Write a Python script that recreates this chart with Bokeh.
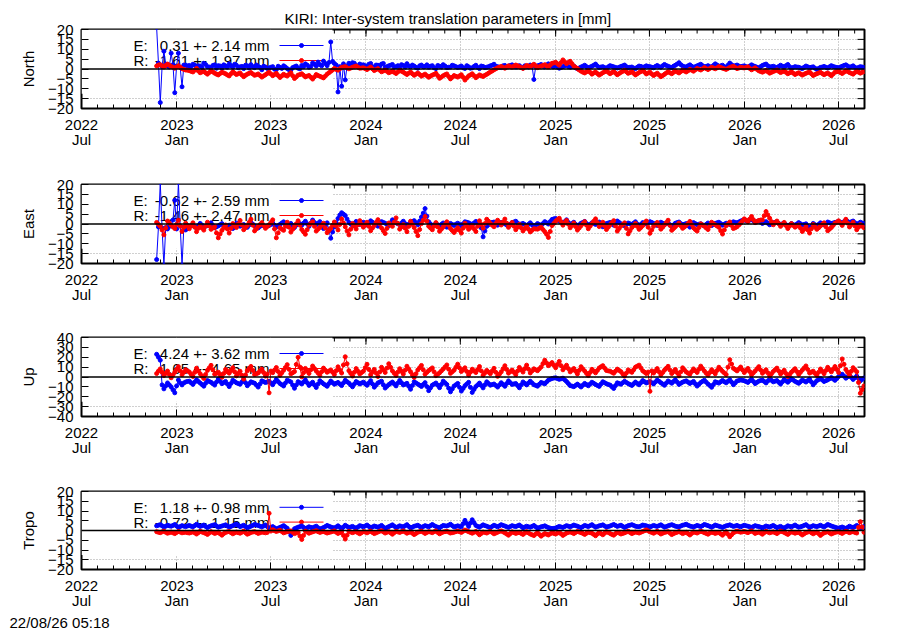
from datetime import datetime, timedelta
from bokeh.plotting import figure
from bokeh.layouts import column
from bokeh.models import FixedTicker, Range1d, Title
from bokeh.core.properties import value
from bokeh.embed import file_html
from bokeh.resources import INLINE

# ---------------- data ----------------
TITLE = "KIRI: Inter-system translation parameters in [mm]"
STAMP = "22/08/26 05:18"
FIRST_DAY = datetime(2022, 11, 23)   # first weekly sample; *_MID lists sit half a week later
STEP_DAYS = 7
X_START = datetime(2022, 7, 1)
X_END = datetime(2026, 8, 20)

PANELS = ["North", "East", "Up", "Tropo"]
Y_LIMITS = [20, 20, 40, 20]
Y_STEPS = [5, 5, 10, 5]
KEY_E = ["0.31 +- 2.14 mm", "-0.62 +- 2.59 mm", "-4.24 +- 3.62 mm", "1.18 +- 0.98 mm"]
KEY_R = ["-1.61 +- 1.97 mm", "-1.46 +- 2.47 mm", "1.65 +- 4.65 mm", "-0.72 +- 1.15 mm"]

NORTH_E = [21, -17, 9, 1.5, 8, -12, 8, -9, 2,
           1.8, 2.4, 0.9, 1.5, 2.9, 1.2, 0.6, 2.1, 1.7, 0.3, 1.4, 2.6, 0.8, 1.9, 1.1, 0.2, 1.6, 2.2, 0.7, 1.3, -0.4, 1.0,
           0.5, 1.2, -0.3, 0.8, 1.6, 0.2, -0.6, 1.1, 0.4, 1.8, 2.6, 0.9, 3.1, 1.5, 2.2, 4.0, 1.7,
           13.7, 2.8, -11.6, -8.7, -5.5, 2.9, 3.2, 1.8, 2.5,
           2.1, 1.4, 2.8, 1.0, 1.9, 2.5, 0.8, 1.6, 2.3, 1.2, 0.6, 1.8, 2.7, 1.1, 1.5, 0.4, 2.0, 1.3, 0.9, 1.7, 0.2, 1.4, 2.2, 0.7, 1.0, 1.6,
           0.8, 1.5, 0.3, 1.1, 0.6, 1.9, 0.2, 1.3, 0.9, 1.6, 2.4, 1.2, 0.7, 1.8, 1.4, 2.1, 1.0, 1.7, 0.5, 1.3, 2.0, -5.3, 1.6, 2.3, 1.1, 2.6, 1.4,
           1.8, 0.4, 1.2, 2.2, 0.9, 1.5, 0.1, 1.0, 1.9, 0.6, 1.4, 2.5, 0.8, 1.2, 0.3, 1.7, 1.1, 0.5, 1.3, 2.0, 0.7, 1.0, 0.2, 1.5, 0.9, 1.6,
           1.2, 0.6, 1.8, 0.9, 2.3, 1.4, 0.7, 1.9, 3.2, 1.5, 1.0, 2.1, 0.8, 1.6, 2.4, 1.1, 1.7, 0.9, 2.6, 1.3, 1.9, 0.7, 3.0, 1.5, 2.0, 1.2,
           1.6, 0.8, 2.1, 1.3, 0.5, 1.8, 2.5, 1.0, 1.4, 0.6, 1.9, 1.1, 2.3, 0.4, 1.2, 0.9, 0.2, 1.5, 0.7, 1.1, -0.2, 0.8, 1.3, 0.5, 1.7, 1.0,
           0.6, 1.4, 2.1, 0.9, 1.6, 0.3, 1.2, 0.8]
NORTH_E_MID = [3.0, 1.2, 2.5, 1.0, 2.2, 1.5, 0.8, 2.0, 1.4,
               1.1, 2.0, 1.6, 0.7, 2.3, 1.0, 1.8, 0.4, 1.5, 2.1, 0.9, 1.7, 2.4, 0.6, 1.3, 1.9, 0.5, 1.2, 2.0, 0.8, 1.4, 0.3,
               0.9, -0.1, 1.4, 0.3, 1.0, -0.4, 0.7, 1.5, 0.1, 1.2, 2.0, 1.3, 2.4, 3.5, 1.6, 2.8, 3.3,
               3.8, 2.0, 1.2, 2.6, 1.5, 2.2, 2.9, 1.4, 2.0,
               1.6, 2.4, 1.1, 2.0, 1.4, 2.8, 1.2, 1.9, 0.9, 1.7, 2.2, 1.0, 1.5, 2.0, 0.8, 1.6, 1.1, 2.1, 1.4, 0.6, 1.8, 1.0, 1.5, 0.9, 1.9, 1.2,
               1.1, 0.6, 1.7, 0.4, 1.3, 0.8, 1.5, 0.7, 1.2, 1.9, 1.4, 0.9, 1.6, 1.1, 1.8, 1.3, 1.2, 0.9, 1.6, 1.0, 1.5, 1.2, 1.9, 1.4, 2.0, 1.8, 1.2,
               1.0, 0.8, 1.6, 1.3, 1.2, 0.6, 0.5, 1.4, 1.2, 1.0, 1.9, 1.5, 1.0, 0.7, 1.1, 1.4, 0.8, 0.9, 1.6, 1.2, 0.9, 0.5, 0.9, 1.3, 1.1, 1.3,
               0.9, 1.3, 1.2, 1.6, 1.8, 1.0, 1.4, 2.5, 2.2, 1.2, 1.6, 1.4, 1.2, 2.0, 1.7, 1.3, 1.2, 1.8, 2.0, 1.6, 1.2, 1.9, 2.2, 1.7, 1.5, 1.4,
               1.2, 1.5, 1.6, 0.9, 1.2, 2.2, 1.6, 1.2, 1.0, 1.3, 1.4, 1.7, 1.2, 0.8, 1.0, 0.5, 0.9, 1.1, 0.9, 0.4, 0.3, 1.0, 0.9, 1.1, 1.3, 0.8,
               1.0, 1.8, 1.5, 1.2, 0.9, 0.8, 1.0]
NORTH_R = [1.5, 2.2, 1.0, 2.5, 1.3, 0.4, 1.6, 0.2, -0.5,
           -0.8, -1.5, 0.3, -1.9, -1.2, -2.6, -0.9, -2.1, -3.0, -1.7, -2.4, -3.5, -1.4, -2.8, -2.0, -3.9, -2.6, -1.8, -3.2, -2.5, -4.1, -2.9,
           -1.6, -3.4, -2.2, -4.3, -2.7, -3.6, -1.9, -4.8, -3.1, -2.4, -4.0, -3.3, -5.1, -2.8, -3.7, -4.5, -2.6,
           -1.2, 0.3, -0.6, 0.8, 1.2, 0.1, 0.9, 1.5, 0.4,
           0.6, -0.3, 1.0, -0.8, 0.2, -1.4, -0.6, -1.9, -1.1, -2.3, -0.7, -1.6, -2.8, -1.5, -3.2, -2.0, -3.6, -2.6, -4.2, -3.1, -2.2, -4.7, -3.4, -2.5, -5.0, -3.3,
           -4.1, -2.9, -5.6, -3.5, -2.4, -4.4, -3.0, -3.8, -2.7, -1.5, -0.4, 0.6, 1.3, 0.4, 1.6, 0.9, 2.0, 1.1, 0.3, 1.8, 1.2, 2.4, 0.7, 1.5, 2.2, 1.0, 2.9,
           3.4, 1.9, 4.6, 2.7, 3.9, 1.5, 0.2, -1.1, -2.0, -0.8, -2.6, -1.5, -3.1, -1.9, -0.9, -2.4, -1.3, -2.9, -1.7, -0.6, -2.2, -1.4, -3.0, -1.8, -0.7, -2.5,
           -1.6, -3.3, -2.1, -3.9, -2.7, -1.4, -2.4, -1.0, -2.0, -0.6, -1.5, -0.2, -1.1, 0.3, -0.5, 0.7, -0.3, 0.9, 0.1, 1.2, 0.4, -0.2, 0.8, 1.4, 0.2, 0.9,
           0.5, 1.1, -0.4, 0.6, -0.9, -1.6, -0.7, -2.1, -1.3, -0.5, -1.8, -1.0, -2.4, -1.4, -2.8, -1.9, -3.1, -2.2, -1.5, -3.3, -2.4, -1.7, -2.9, -2.0, -3.4, -1.6,
           -1.2, -2.3, -0.9, -1.8, -2.6, -1.1, -2.1, -1.4]
NORTH_R_MID = [2.0, 1.6, 1.8, 1.9, 0.9, 1.0, 0.9, -0.2, -0.6,
               -1.2, -0.6, -1.0, -1.5, -1.9, -1.8, -1.5, -2.6, -2.3, -2.0, -3.0, -2.4, -2.1, -2.4, -3.0, -3.2, -2.2, -2.5, -2.9, -3.3, -3.5, -2.3,
               -2.5, -2.8, -3.3, -3.5, -3.2, -2.7, -3.4, -4.0, -2.8, -3.2, -3.6, -4.2, -4.0, -3.3, -4.1, -3.6, -1.9,
               -0.5, -0.2, 0.1, 1.0, 0.6, 0.5, 1.2, 0.9, 0.5,
               0.2, 0.4, 0.1, -0.3, -0.6, -1.0, -1.2, -1.5, -1.7, -1.5, -1.1, -2.2, -2.1, -2.4, -2.6, -2.8, -3.1, -3.4, -3.6, -2.7, -3.4, -4.1, -2.9, -3.8, -4.2, -3.7,
               -3.5, -4.2, -4.5, -3.0, -3.4, -3.7, -3.4, -3.2, -2.1, -1.0, 0.1, 0.9, 0.8, 1.0, 1.2, 1.5, 1.6, 0.7, 1.0, 1.5, 1.8, 1.6, 1.1, 1.8, 1.6, 2.0, 3.1,
               2.6, 3.3, 3.6, 3.3, 2.7, 0.8, -0.5, -1.6, -1.4, -1.7, -2.0, -2.3, -2.5, -1.4, -1.7, -1.8, -2.1, -2.3, -1.2, -1.4, -1.8, -2.2, -2.4, -1.3, -1.6, -2.0,
               -2.5, -2.7, -3.0, -3.3, -2.0, -1.9, -1.7, -1.5, -1.3, -1.0, -0.9, -0.6, -0.4, -0.1, 0.1, 0.2, 0.3, 0.5, 0.6, 0.8, 0.1, 0.3, 1.1, 0.8, 0.5, 0.7,
               0.8, 0.3, 0.1, -0.2, -1.3, -1.2, -1.4, -1.7, -0.9, -1.2, -1.4, -1.7, -1.9, -2.1, -2.3, -2.5, -2.6, -1.8, -2.4, -2.8, -2.0, -2.3, -2.4, -2.7, -2.5, -1.4,
               -1.8, -1.6, -1.3, -2.2, -1.8, -1.6, -1.7]

EAST_E = [-18, 21, -21, -2.5, -1.0, 12, 21, -21, -3,
          -1.2, -0.4, -2.1, 0.3, -1.5, -0.8, 0.6, -1.9, -1.0, 0.2, -1.4, -0.6, -2.3, 0.4, -1.1, -0.3, -1.7, 0.8, -0.9, -2.0, -0.5, -1.3,
          -0.8, 0.5, -1.6, -0.2, 1.1, -1.0, 0.3, -1.8, 0.7, -0.6, 1.4, -1.2, 2.0, -0.4, 1.2, -2.3, 0.6,
          -7.2, -1.5, 2.8, 5.7, 4.3, 0.8, -0.7, 1.3, -0.2,
          0.9, -0.5, 1.6, 0.2, -1.1, 1.2, 0.4, -0.8, 2.1, 0.6, -0.3, 1.4, -1.0, 0.8, 1.7, -0.4, 3.5, 7.8, 1.1, -1.3, 0.2, -0.9, 0.5, -1.6, 0.3, -0.7,
          0.4, -0.8, 1.1, 0.6, -0.3, 1.3, 0.2, -6.5, -1.2, 0.5, 1.0, -0.6, 0.8, 0.1, -1.0, 0.7, 1.4, -0.4, 0.3, -0.9, 0.6, -1.5, 0.2, -0.7, 1.2, 0.0, 2.3,
          2.8, 1.5, 0.3, 2.1, -0.5, 0.9, -1.2, 0.4, 1.3, -0.8, 0.6, -0.2, 1.0, -1.4, 0.2, 0.8, -0.6, 1.5, 0.1, -0.9, 0.5, -0.3, 1.1, -1.1, 0.7, 0.0,
          1.2, 0.3, -0.7, 0.9, -0.2, 0.6, -1.3, 0.4, 1.0, -0.5, 0.2, -1.6, 0.7, -0.4, 0.1, -1.0, 0.5, -0.8, 0.3, 0.9, -0.6, 0.4, -0.2, 1.1, 0.6, 1.5,
          2.1, 1.4, 2.6, 0.8, 1.7, 0.3, 1.2, -0.4, 0.6, 0.9, -0.3, 0.5, -1.2, 0.2, -0.8, 0.7, -0.5, 0.1, -2.6, 0.3, -1.0, 0.6, -0.4, 1.0, 0.2, 0.8,
          1.3, 0.4, 2.0, 0.7, 1.5, -0.3, 0.9, 0.2]
EAST_E_MID = [-1.5, -2.0, -1.8, -1.2, 2.0, -2.5, -1.0, -1.5, -0.8,
              -0.8, -1.3, -0.9, -0.6, -1.1, -0.2, -0.7, -1.4, -0.4, -0.7, -1.0, -1.5, -0.8, -0.4, -0.7, -1.0, -0.5, -0.1, -1.5, -1.2, -0.9, -1.0,
              -0.2, -0.6, -0.9, 0.5, 0.0, -0.4, -0.8, -0.6, 0.1, 0.4, 0.1, 0.4, 0.8, 0.4, -0.5, -1.0, -3.0,
              -4.0, 0.6, 4.5, 5.0, 2.5, 0.0, 0.3, 0.5, 0.4,
              0.2, 0.5, 0.9, -0.5, 0.0, 0.8, -0.2, 0.6, 1.3, 0.1, 0.5, 0.2, -0.1, 1.2, 0.6, 1.5, 5.5, 4.0, 0.0, -0.5, -0.4, -0.2, -0.6, -0.7, -0.2, -0.1,
              -0.2, 0.1, 0.9, 0.1, 0.5, 0.7, -2.0, -3.5, -0.3, 0.8, 0.2, 0.1, 0.4, -0.5, -0.1, 1.0, 0.5, 0.0, -0.3, -0.2, -0.4, -0.6, -0.3, 0.2, 0.6, 1.2, 2.6,
              2.1, 0.9, 1.2, 0.8, 0.2, -0.2, -0.4, 0.8, 0.2, -0.1, 0.2, 0.4, -0.2, -0.6, 0.5, 0.1, 0.4, 0.8, -0.4, -0.2, 0.1, 0.4, 0.0, -0.2, 0.3, 0.6,
              0.8, -0.2, 0.1, 0.4, 0.2, -0.4, -0.5, 0.7, 0.2, -0.1, -0.7, -0.4, 0.2, -0.1, -0.5, -0.2, -0.2, -0.3, 0.6, 0.2, -0.1, 0.1, 0.4, 0.8, 1.0, 1.8,
              1.7, 2.0, 1.7, 1.2, 1.0, 0.8, 0.4, 0.1, 0.8, 0.3, 0.1, -0.4, -0.5, -0.3, 0.0, 0.1, -0.2, -1.2, -1.2, -0.4, -0.2, 0.1, 0.3, 0.6, 0.5, 1.0,
              0.9, 1.2, 1.3, 1.1, 0.6, 0.3, 0.5]
EAST_R = [0.8, -1.2, -5.5, 1.5, -0.6, -2.3, 1.9, -3.8, 0.4,
          -2.4, 0.6, -3.9, -1.0, -3.1, 0.9, -2.7, -1.4, -7.0, -3.2, -0.5, -4.6, 0.2, -1.8, 1.8, -2.9, -0.8, 2.4, -3.5, -1.2, 0.7, -2.2,
          -0.4, 2.1, -7.0, -1.9, -3.2, 0.9, -4.1, -1.3, 1.6, -2.8, -5.2, -0.6, 1.2, -3.6, -1.7, 0.4, -4.4,
          -2.2, 1.0, -3.0, 2.6, -1.4, -5.5, 0.3, -2.5, 1.7,
          -1.6, 0.9, -3.4, -0.7, 2.2, -2.0, -4.8, 0.5, -1.2, 3.1, -2.6, -0.3, -3.9, 1.4, -1.8, -5.9, 0.2, 3.8, -1.1, -2.9, 0.7, -3.7, -1.5, 1.1, -2.3, -4.3,
          -1.9, -4.6, 0.4, -2.7, -0.9, -3.8, 1.6, -2.1, 2.4, 0.3, -1.4, 1.9, -0.5, 2.5, -1.7, 0.8, -2.9, -0.2, -3.5, -1.1, -4.0, -2.4, -2.6, -1.6, -3.9, -6.8, -0.8,
          1.4, 2.9, -0.6, 1.8, -1.9, 0.5, -3.1, -0.9, 1.2, -2.4, 0.2, 2.6, -1.3, 0.9, -2.8, -0.4, 1.7, -3.6, -1.0, 0.6, -5.0, -1.8, 0.3, -2.7, -0.8, 1.5,
          -4.7, -1.2, 0.8, -2.6, -0.5, 1.9, -3.2, -1.4, 0.5, -2.2, -0.7, 1.3, -1.9, -3.6, 0.1, -1.1, -2.8, 0.9, -0.4, -1.7, -5.1, -0.9, 1.0, -2.3, -1.4, 0.4,
          2.6, 1.2, 3.8, 0.7, 1.8, 2.1, 6.3, 2.9, -0.4, 1.5, -1.2, 0.8, -2.3, 0.2, -1.6, -0.5, -3.8, -1.3, -4.6, -0.2, -2.7, -1.0, 0.6, -3.4, -1.8, 0.4,
          1.6, -0.7, 2.4, -1.5, 0.9, -2.9, -0.3, -1.9]
EAST_R_MID = [-0.2, -3.0, -2.0, 0.5, -1.4, -0.2, -1.0, -1.7, -1.0,
              -0.9, -1.6, -2.2, -2.0, -1.1, -0.9, -2.0, -4.5, -5.0, -1.8, -2.5, -2.2, -0.8, 0.0, -0.5, -1.8, 0.8, -0.6, -2.4, -0.3, -0.8, -1.3,
              0.8, -2.5, -4.5, -2.6, -1.2, -1.6, -2.7, 0.1, -0.6, -4.0, -2.9, 0.3, -1.2, -2.6, -0.6, -2.0, -3.3,
              -0.6, -1.0, -0.2, 0.6, -3.5, -2.6, -1.1, -0.4, -0.2,
              -0.4, -1.2, -2.0, 0.8, 0.1, -3.4, -2.2, -0.4, 0.9, 0.3, -1.4, -2.1, -1.2, -0.2, -3.8, -2.8, 1.9, 1.4, -2.0, -1.1, -1.5, -2.6, -0.2, -0.6, -3.3, -3.1,
              -3.2, -2.1, -1.1, -1.8, -2.4, -1.1, -0.2, 0.2, 1.4, -0.6, 0.3, 0.7, 1.0, 0.4, -0.5, -1.1, -1.6, -1.9, -2.3, -2.6, -3.2, -2.5, -2.1, -2.8, -5.2, -3.8, 0.3,
              2.2, 1.2, 0.6, -0.1, -0.7, -1.3, -2.0, 0.2, -0.6, -1.1, 1.4, 0.7, -0.2, -1.0, -1.6, 0.7, -1.0, -2.3, -0.2, -2.2, -3.4, -0.8, -1.2, -1.8, 0.4, -1.6,
              -3.0, -0.2, -0.9, -1.6, 0.7, -0.7, -2.3, -0.5, -0.9, -1.5, 0.3, -0.3, -2.8, -1.8, -0.5, -2.0, -1.0, 0.2, -1.0, -3.4, -3.0, 0.0, -0.7, -1.9, -0.5, 1.5,
              1.9, 2.5, 2.2, 1.3, 2.0, 4.2, 4.6, 1.2, 0.6, 0.2, -0.2, -0.8, -1.0, -0.7, -1.0, -2.1, -2.6, -3.0, -2.4, -1.5, -1.9, -0.2, -1.4, -2.6, -0.7, 0.9,
              0.5, 0.9, 0.4, -0.3, -1.0, -1.6, -1.1]

UP_E = [23, 17, -12, -6, -10, -16, -3, -8, -5,
        -4.2, -7.5, -2.8, -6.1, -9.3, -3.6, -5.4, -8.2, -2.1, -6.8, -4.5, -9.7, -3.3, -5.9, -7.4, -2.6, -8.8, -4.9, -6.3, -10.2, -3.9, -5.6,
        -4.4, -7.8, -2.5, -6.6, -9.1, -3.2, -5.0, -11.4, -4.7, -7.1, -2.9, -8.5, -5.3, -10.6, -3.8, -6.9, -9.4,
        -4.1, -7.3, -5.5, -8.7, -3.4, -6.2, -9.9, -4.6, -7.0,
        -5.2, -8.4, -3.7, -10.3, -6.0, -4.3, -11.2, -7.7, -5.1, -9.0, -3.5, -8.1, -6.4, -12.4, -4.8, -7.2, -9.6, -5.7, -13.8, -8.3, -6.1, -10.8, -4.2, -7.6, -15.0, -9.2,
        -6.5, -14.3, -8.8, -5.4, -15.6, -9.7, -6.2, -11.0, -4.9, -8.3, -7.1, -10.2, -5.8, -9.4, -3.9, -7.5, -6.6, -10.9, -5.0, -8.0, -4.3, -7.8, -9.3, -5.5, -6.9, -3.2, -1.5,
        -0.8, -2.4, -1.2, -4.6, -8.7, -9.8, -7.2, -10.1, -6.5, -8.9, -5.3, -7.6, -9.5, -4.8, -6.8, -8.2, -11.6, -5.9, -7.3, -4.4, -6.7, -8.6, -5.1, -7.9, -3.6, -6.0,
        -4.7, -7.0, -3.1, -5.8, -8.4, -4.0, -6.3, -2.8, -7.5, -5.2, -3.9, -6.6, -4.5, -9.2, -5.6, -3.3, -7.1, -10.4, -4.8, -6.2, -3.5, -5.9, -2.7, -7.8, -4.1, -3.0,
        -3.8, -5.5, -2.4, -6.7, -4.2, -3.1, -6.0, -2.0, -4.9, -3.6, -7.2, -2.6, -5.3, -1.8, -4.4, -6.4, -3.0, -5.1, -2.2, -7.9, -3.7, -1.5, -4.6, -2.9, -0.6, -3.4,
        0.4, 2.8, -1.2, 1.6, -2.5, 0.9, -3.8, -1.0]
UP_E_MID = [20, -8, -9, -8, -13, -9, -6, -6, -4.5,
            -5.9, -5.1, -4.5, -7.7, -6.4, -4.5, -6.8, -5.1, -4.4, -5.6, -7.1, -6.5, -4.6, -6.6, -5.0, -5.7, -6.8, -5.6, -8.2, -7.0, -4.7, -5.0,
            -6.1, -5.2, -4.6, -7.8, -6.2, -4.1, -8.2, -8.0, -5.9, -5.0, -5.7, -6.9, -8.0, -7.2, -5.4, -8.1, -6.7,
            -5.7, -6.4, -7.1, -6.0, -4.8, -8.0, -7.2, -5.8, -6.1,
            -6.8, -6.0, -7.0, -8.2, -5.1, -7.8, -9.4, -6.4, -7.0, -6.2, -5.8, -7.3, -9.4, -8.6, -6.0, -8.4, -7.6, -9.7, -11.0, -7.2, -8.4, -7.5, -5.9, -11.3, -12.1, -7.9,
            -10.4, -11.6, -7.1, -10.5, -12.6, -8.0, -8.6, -7.9, -6.6, -7.7, -8.6, -8.0, -7.6, -6.6, -5.7, -7.0, -8.7, -7.9, -6.5, -6.1, -6.0, -8.5, -7.4, -6.2, -5.0, -2.3, -1.1,
            -1.6, -1.8, -2.9, -6.6, -9.2, -8.5, -8.6, -8.3, -7.7, -7.1, -6.4, -8.5, -7.1, -5.8, -7.5, -9.9, -8.7, -6.6, -5.8, -5.5, -7.6, -6.8, -6.5, -5.7, -4.8, -5.3,
            -5.8, -5.0, -4.4, -7.1, -6.2, -5.1, -4.5, -5.1, -6.3, -4.5, -5.2, -5.5, -6.8, -7.4, -4.4, -5.2, -8.7, -7.6, -5.5, -4.8, -4.7, -4.3, -5.2, -6.0, -3.5, -3.4,
            -4.6, -3.9, -4.5, -5.4, -3.6, -4.5, -4.0, -3.4, -4.2, -5.4, -4.9, -3.9, -3.5, -3.1, -5.4, -4.7, -4.0, -3.6, -5.0, -5.8, -2.6, -3.0, -3.7, -1.7, -2.0, -1.5,
            1.6, 0.8, 0.2, -0.4, -0.8, -1.4, -2.4]
UP_R = [3.5, 8.2, 1.4, 6.0, -0.8, 4.7, 10.5, 2.2, 7.4,
        5.1, 0.6, 8.9, 3.3, -1.5, 6.7, 11.8, 2.8, 4.9, -0.3, 7.6, 3.9, 9.4, 1.2, 5.8, -2.1, 6.3, 10.7, 2.5, 4.1, 8.0, 0.9,
        -16.0, 4.4, 9.6, 1.7, 6.8, 12.5, 3.2, 5.5, 20.0, 0.2, 8.7, 3.6, 11.1, 6.1, 1.9, 9.0, 4.8,
        7.2, 2.6, 10.3, 4.0, 20.5, 6.4, 1.0, 8.5, 3.1,
        5.9, 12.9, 2.3, 7.7, 0.5, 9.8, 4.6, 13.4, 6.2, 1.6, 8.4, 3.0, 10.9, 5.3, -0.4, 7.1, 11.7, 2.9, 6.5, 9.2, 1.3, 4.3, 8.1, 12.2, 3.7, 6.9,
        13.0, 5.6, 9.3, 2.0, 7.9, 4.5, 10.6, 1.8, 6.7, 3.4, 8.8, 0.7, 5.2, 11.4, 3.9, 7.0, 2.4, 9.7, 5.0, 12.0, 4.1, 8.3, 6.4, 10.2, 17.0, 11.5, 14.6,
        9.4, 15.8, 7.3, 11.9, 5.2, 8.6, 3.1, 10.4, 6.0, 1.5, 7.8, 4.2, 9.1, 11.5, 6.6, 5.9, 3.8, 8.0, 5.4, 0.9, 7.2, 4.7, 10.0, 12.0, 6.3, 3.5,
        -14.5, 4.0, 8.5, 2.1, 6.9, 10.8, 3.5, 7.6, 1.2, 9.3, 5.1, 2.8, 8.2, 4.6, 11.0, 6.0, 1.9, 7.4, 3.3, 9.9, 5.7, 2.5, 17.5, 8.8, 6.2, 10.1,
        4.5, 8.7, 2.3, 6.1, 10.5, 3.8, 7.3, 1.1, 5.6, 9.0, 3.0, 6.8, 0.4, 4.9, 8.4, 2.6, 7.0, 11.2, 4.0, 5.9, 1.6, 8.1, 3.4, 9.8, 5.2, 10.6,
        4.6, 18.3, 7.5, 2.0, 9.4, 5.3, -16.5, -9.0]
UP_R_MID = [6.0, 4.8, 3.7, 2.6, 2.0, 7.6, 6.3, 4.8, 6.2,
            2.8, 4.7, 6.1, 0.9, 2.6, 9.2, 7.3, 3.8, 2.3, 3.6, 5.8, 6.6, 5.3, 3.5, 1.8, 2.1, 8.5, 6.6, 3.3, 6.0, 4.5, 3.0,
            6.0, 7.0, 5.6, 4.2, 9.6, 7.8, 4.3, 12.7, 10.1, 4.4, 6.1, 7.3, 8.6, 4.0, 5.4, 6.9, 6.0,
            4.9, 6.4, 7.1, 12.2, 13.4, 3.7, 4.7, 5.8, 4.5,
            9.4, 7.6, 5.0, 4.1, 5.1, 7.2, 9.0, 9.8, 3.9, 5.0, 5.7, 6.9, 8.1, 2.4, 3.3, 9.4, 7.3, 4.7, 7.8, 5.2, 2.8, 6.2, 10.1, 7.9, 5.3, 9.9,
            9.3, 7.4, 5.6, 4.9, 6.2, 7.5, 6.2, 4.2, 5.0, 6.1, 4.7, 2.9, 8.3, 7.6, 5.4, 4.7, 6.0, 7.3, 8.5, 8.0, 6.2, 7.3, 8.3, 13.6, 14.2, 13.0, 12.0,
            12.6, 11.5, 9.6, 8.5, 6.9, 5.8, 6.7, 8.2, 3.7, 4.6, 6.0, 6.6, 10.3, 9.0, 6.2, 4.8, 5.9, 6.7, 3.1, 4.0, 5.9, 7.3, 11.0, 9.1, 4.9, 5.0,
            6.2, 6.2, 5.3, 4.5, 8.8, 7.1, 5.5, 4.4, 5.2, 7.2, 3.9, 5.5, 6.4, 7.8, 8.5, 3.9, 4.6, 5.3, 6.6, 7.8, 4.1, 10.0, 13.1, 7.5, 8.1, 7.3,
            6.6, 5.5, 4.2, 8.3, 7.1, 5.5, 4.2, 3.3, 7.3, 6.0, 4.9, 3.6, 2.6, 6.6, 5.5, 4.8, 9.1, 7.6, 4.9, 3.7, 4.8, 5.7, 6.6, 7.5, 7.9, 7.6,
            11.4, 12.9, 4.7, 5.7, 7.3, -5.5, -12.8]

TROPO_E = [2.4, 3.0, 1.8, 2.7, 2.2, 3.1, 1.6, 2.5, 2.0,
           2.6, 1.9, 3.2, 2.1, 2.8, 1.5, 2.4, 3.0, 1.7, 2.3, 2.9, 1.8, 2.5, 3.3, 2.0, 2.7, 1.4, 2.2, 3.1, 2.6, 1.9, 2.8,
           1.2, 2.0, 0.8, 1.6, 2.5, 1.1, -2.5, 0.9, 1.7, 2.3, 1.0, 1.9, 1.4, 2.2, 0.7, 1.5, 2.6,
           1.8, 1.3, 2.4, 1.0, 2.7, 1.6, 2.1, 1.2, 2.5,
           1.9, 2.8, 1.4, 2.3, 1.7, 2.6, 1.1, 2.0, 2.9, 1.5, 2.4, 1.8, 3.0, 1.3, 2.2, 2.7, 1.6, 2.5, 1.9, 3.1, 2.0, 1.4, 2.6, 2.3, 3.2, 1.8,
           2.4, 1.9, 5.2, 2.1, 5.5, 2.6, 1.7, 2.9, 2.2, 1.5, 2.7, 1.9, 3.0, 2.3, 1.6, 2.5, 2.0, 2.8, 1.4, 2.2, 1.7, 2.6, 1.2, 1.9, 2.4, 1.5, 1.0,
           1.3, 2.1, 1.6, 2.5, 1.9, 2.8, 2.2, 1.5, 2.6, 2.0, 3.0, 1.7, 2.4, 2.9, 1.8, 2.3, 3.1, 2.1, 2.7, 1.6, 2.5, 3.0, 2.2, 1.9, 2.8, 2.4,
           1.8, 2.6, 2.1, 2.9, 1.7, 2.4, 3.0, 2.2, 1.9, 2.7, 3.2, 2.3, 1.8, 2.6, 2.0, 3.1, 2.5, 1.7, 2.8, 2.2, 1.6, 2.4, 2.9, 2.1, 2.6, 1.9,
           2.7, 2.2, 1.6, 2.5, 2.0, 1.4, 2.3, 1.8, 2.6, 1.5, 2.1, 1.2, 2.4, 1.9, 2.8, 1.7, 2.2, 3.0, 1.6, 2.5, 2.0, 2.7, 1.8, 3.1, 2.3, 1.7,
           1.2, 1.8, 1.0, 2.2, 1.5, 2.6, 1.3, 2.0]
TROPO_E_MID = [2.7, 2.4, 2.2, 2.4, 2.6, 2.3, 2.0, 2.2, 2.3,
               2.2, 2.5, 2.6, 2.4, 2.1, 2.0, 2.7, 2.3, 2.0, 2.6, 2.3, 2.1, 2.9, 2.6, 2.3, 2.0, 1.8, 2.6, 2.8, 2.2, 2.3, 2.0,
               1.6, 1.4, 1.2, 2.0, 1.8, -0.7, -0.8, 1.3, 2.0, 1.6, 1.4, 1.6, 1.8, 1.4, 1.1, 2.0, 2.2,
               1.5, 1.8, 1.7, 1.8, 2.1, 1.8, 1.6, 1.8, 2.2,
               2.3, 2.1, 1.8, 2.0, 2.1, 1.8, 1.5, 2.4, 2.2, 1.9, 2.1, 2.4, 2.1, 1.7, 2.4, 2.1, 2.0, 2.2, 2.5, 2.5, 1.7, 2.0, 2.4, 2.7, 2.5, 2.1,
               2.1, 3.5, 3.6, 3.8, 4.0, 2.1, 2.3, 2.5, 1.8, 2.1, 2.3, 2.4, 2.6, 1.9, 2.0, 2.2, 2.4, 2.1, 1.8, 1.9, 2.1, 1.9, 1.5, 2.1, 1.9, 1.2, 1.1,
               1.7, 1.8, 2.0, 2.2, 2.3, 2.5, 1.8, 2.0, 2.3, 2.5, 2.3, 2.0, 2.6, 2.3, 2.0, 2.7, 2.6, 2.4, 2.1, 2.0, 2.7, 2.6, 2.0, 2.3, 2.6, 2.1,
               2.2, 2.3, 2.5, 2.3, 2.0, 2.7, 2.6, 2.0, 2.3, 2.9, 2.7, 2.0, 2.2, 2.3, 2.5, 2.8, 2.1, 2.2, 2.5, 1.9, 2.0, 2.6, 2.5, 2.3, 2.2, 2.3,
               2.4, 1.9, 2.0, 2.2, 1.7, 1.8, 2.0, 2.2, 2.0, 1.8, 1.6, 1.8, 2.1, 2.3, 2.2, 1.9, 2.6, 2.3, 2.0, 2.2, 2.3, 2.2, 2.4, 2.7, 2.0, 1.4,
               1.5, 1.4, 1.6, 1.8, 2.0, 1.9, 1.6]
TROPO_R = [-0.6, -1.1, -0.3, -1.4, -0.8, -1.6, -0.5, -1.2, -0.9,
           -1.3, -0.7, -1.8, -0.4, -1.1, -2.0, -0.6, -1.5, -0.9, -2.4, -1.0, -0.5, -1.7, -0.8, -1.4, -0.3, -1.9, -1.0, -0.6, -1.5, -0.8, -1.2,
           8.8, 0.4, -0.5, 0.1, -1.2, -0.6, -0.2, -1.6, -0.9, -4.6, -0.3, -1.4, -0.7, -0.1, -1.0, -0.5, -1.3,
           -0.8, -0.2, -1.5, -0.7, -4.4, -0.4, -1.1, -0.6, -1.7,
           -0.5, -1.2, -0.3, -1.6, -0.8, -0.1, -1.3, -0.6, -1.9, -0.4, -1.0, -0.2, -1.4, -0.7, -2.1, -0.9, -0.3, -1.5, -0.6, -1.1, -0.2, -1.7, -0.8, -0.4, -1.3, -0.9,
           -0.3, -1.0, 0.2, -0.6, -1.4, -0.5, -2.2, -0.8, -1.3, -0.4, -1.7, -0.9, -0.2, -1.2, -2.4, -0.7, -1.5, -1.0, -2.0, -0.6, -1.8, -2.6, -1.1, -2.9, -1.6, -2.3, -1.2,
           -1.8, -0.9, -2.5, -1.3, -0.7, -1.6, -0.5, -1.1, -2.0, -0.8, -1.4, -2.7, -1.0, -2.2, -0.6, -1.5, -2.4, -0.9, -1.8, -1.2, -0.4, -1.6, -0.8, -1.3, -0.5, 0.3,
           -0.7, -1.4, -0.4, -1.8, -1.0, -0.6, -2.1, -1.2, -0.5, -1.6, -0.9, -2.3, -0.7, -1.3, -0.4, -1.1, -1.9, -0.8, -1.5, -1.0, -2.4, -0.6, -3.2, -1.2, -0.3, -0.9,
           -0.5, -1.1, -0.2, -1.5, -0.8, -1.9, -0.4, -1.2, -0.7, -1.6, -0.3, -1.0, -2.0, -0.6, -1.4, -0.9, -2.3, -1.1, -0.5, -1.7, -0.8, -2.5, -1.2, -0.6, -1.8, -1.0,
           -0.7, -1.5, -0.4, -1.1, -0.6, -1.3, 4.5, -0.9]
TROPO_R_MID = [-0.9, -0.7, -0.9, -1.1, -1.2, -1.0, -0.8, -1.0, -1.1,
               -1.0, -1.2, -1.1, -0.8, -1.5, -1.3, -1.0, -1.2, -1.7, -1.6, -0.7, -1.1, -1.2, -1.1, -0.9, -1.1, -1.5, -0.8, -1.0, -1.2, -1.0, -1.0,
               -0.3, -0.1, -0.2, -0.5, -0.9, -0.4, -0.9, -1.2, -2.8, -2.5, -0.8, -1.0, -0.4, -0.6, -0.7, -0.9, -1.0,
               -0.5, -0.9, -1.1, -2.5, -2.4, -0.8, -0.8, -1.2, -1.1,
               -0.8, -0.7, -1.0, -1.2, -0.4, -0.7, -0.9, -1.2, -1.1, -0.7, -0.6, -0.8, -1.0, -1.4, -1.5, -0.6, -0.9, -1.0, -0.8, -0.6, -1.0, -1.2, -0.6, -0.8, -1.1, -0.6,
               -0.6, -0.4, -0.2, -1.0, -0.9, -1.3, -1.5, -1.0, -0.8, -1.0, -1.3, -0.5, -0.7, -1.8, -1.6, -1.1, -1.2, -1.5, -1.3, -1.2, -2.2, -1.8, -2.0, -2.2, -1.9, -1.7, -1.5,
               -1.3, -1.7, -1.9, -1.0, -1.1, -1.0, -0.8, -1.5, -1.4, -1.1, -2.0, -1.8, -1.6, -1.4, -1.0, -2.0, -1.6, -1.3, -1.5, -0.8, -1.0, -1.2, -1.0, -0.9, -0.1, -0.2,
               -1.0, -0.9, -1.1, -1.4, -0.8, -1.3, -1.6, -0.9, -1.0, -1.2, -1.6, -1.5, -1.0, -0.8, -0.7, -1.5, -1.3, -1.1, -1.2, -1.7, -1.5, -1.9, -2.2, -0.7, -0.6, -0.7,
               -0.8, -0.6, -0.8, -1.1, -1.3, -1.1, -0.8, -0.9, -1.1, -0.9, -0.6, -1.5, -1.3, -1.0, -1.1, -1.6, -1.7, -0.8, -1.1, -1.2, -1.6, -1.8, -0.9, -1.2, -1.4, -0.8,
               -1.1, -0.9, -0.7, -0.8, -1.0, 1.6, 1.8]

SERIES_E = [(NORTH_E, NORTH_E_MID), (EAST_E, EAST_E_MID), (UP_E, UP_E_MID), (TROPO_E, TROPO_E_MID)]
SERIES_R = [(NORTH_R, NORTH_R_MID), (EAST_R, EAST_R_MID), (UP_R, UP_R_MID), (TROPO_R, TROPO_R_MID)]

# ---------------- helpers ----------------
FONT = "Liberation Sans"
FS = "15px"
BLUE = "#0000ff"
RED = "#ff0000"
EPOCH = datetime(1970, 1, 1)


def ms(d):
    return (d - EPOCH).total_seconds() * 1000.0


def series_xy(main, mid):
    pts = [(ms(FIRST_DAY + timedelta(days=STEP_DAYS * i)), v) for i, v in enumerate(main)]
    pts += [(ms(FIRST_DAY + timedelta(days=STEP_DAYS * i + STEP_DAYS / 2.0)), v) for i, v in enumerate(mid)]
    pts.sort()
    return [p[0] for p in pts], [p[1] for p in pts]


major_dates, minor_ms = [], []
yy, mm = 2022, 7
while (yy, mm) <= (2026, 8):
    d = datetime(yy, mm, 1)
    minor_ms.append(ms(d))
    if mm in (1, 7):
        major_dates.append(d)
    mm += 1
    if mm > 12:
        mm, yy = 1, yy + 1
major_ms = [ms(d) for d in major_dates]
x_overrides = {ms(d): f"{d.year}\n{d.strftime('%b')}" for d in major_dates}

# geometry (page px; canvas origin = page origin)
FRAME_LEFT_PX = 81.0
FRAME_W = 783
FRAME_H = 79
FIG_W = 876
BORDER_L = 81
BORDER_R = FIG_W - BORDER_L - FRAME_W
PANEL_TOP = [29, 26, 24, 25]
PANEL_BOTTOM = [50, 50, 50, 60]
X0, X1 = ms(X_START), ms(X_END)
MAJ_TICK, MIN_TICK = 7, 4


def px2x(px):
    return X0 + (px - FRAME_LEFT_PX) / FRAME_W * (X1 - X0)


def dy2y(lim, dy):
    return lim - dy * (2.0 * lim) / FRAME_H


figs = []
for k, name in enumerate(PANELS):
    lim = Y_LIMITS[k]
    h = PANEL_TOP[k] + FRAME_H + PANEL_BOTTOM[k]
    p = figure(width=FIG_W, height=h, output_backend="svg", toolbar_location=None,
               x_range=Range1d(X0, X1), y_range=Range1d(-lim, lim),
               min_border_left=BORDER_L, min_border_right=BORDER_R,
               min_border_top=PANEL_TOP[k], min_border_bottom=PANEL_BOTTOM[k],
               background_fill_color="white", border_fill_color="white")
    p.outline_line_color = "black"
    p.outline_line_width = 2

    yt = list(range(-lim, lim + 1, Y_STEPS[k]))
    xa = p.xaxis[0]
    xa.ticker = FixedTicker(ticks=major_ms, minor_ticks=minor_ms)
    xa.major_label_overrides = x_overrides
    ya = p.yaxis[0]
    ya.ticker = FixedTicker(ticks=yt)
    ya.axis_label = name
    for ax in (xa, ya):
        ax.axis_line_color = None
        ax.major_tick_in = MAJ_TICK
        ax.major_tick_out = 0
        ax.minor_tick_in = MIN_TICK
        ax.minor_tick_out = 0
        ax.major_tick_line_color = "black"
        ax.minor_tick_line_color = "black"
        ax.major_label_text_font = FONT
        ax.major_label_text_font_size = FS
        ax.major_label_text_color = "black"
        ax.axis_label_text_font = FONT
        ax.axis_label_text_font_size = FS
        ax.axis_label_text_font_style = "normal"
        ax.axis_label_text_color = "black"
    xa.major_label_standoff = 7
    xa.major_label_text_line_height = 0.9
    ya.major_label_standoff = 8
    ya.axis_label_standoff = 8

    # grid
    p.xgrid.ticker = FixedTicker(ticks=major_ms)
    p.ygrid.ticker = FixedTicker(ticks=yt)
    for g in (p.xgrid, p.ygrid):
        g.grid_line_color = "#a0a0a0"
        g.grid_line_dash = "1 2"
        g.grid_line_width = 1

    # mirrored ticks on top and right edges
    dy_maj = MAJ_TICK * 2.0 * lim / FRAME_H
    dy_min = MIN_TICK * 2.0 * lim / FRAME_H
    dx_maj = MAJ_TICK * (X1 - X0) / FRAME_W
    p.segment(x0=major_ms, y0=[lim] * len(major_ms), x1=major_ms, y1=[lim - dy_maj] * len(major_ms),
              line_color="black", line_width=1)
    p.segment(x0=minor_ms, y0=[lim] * len(minor_ms), x1=minor_ms, y1=[lim - dy_min] * len(minor_ms),
              line_color="black", line_width=1)
    p.segment(x0=[X1] * len(yt), y0=yt, x1=[X1 - dx_maj] * len(yt), y1=yt,
              line_color="black", line_width=1)

    # opaque key area
    p.quad(left=[X0], right=[px2x(332)], top=[lim], bottom=[-lim * 0.625],
           fill_color="white", line_color=None)

    # key
    row_e, row_r = dy2y(lim, 16), dy2y(lim, 31)
    for lab, stat, ry, col in (("E:", KEY_E[k], row_e, BLUE), ("R:", KEY_R[k], row_r, RED)):
        p.text(x=[px2x(133)], y=[ry], text=[lab], text_font=value(FONT), text_font_size=value(FS),
               text_align="left", text_baseline="middle", text_color="black")
        p.text(x=[px2x(269)], y=[ry], text=[stat], text_font=value(FONT), text_font_size=value(FS),
               text_align="right", text_baseline="middle", text_color="black")
        p.line(x=[px2x(279), px2x(323)], y=[ry, ry], line_color=col, line_width=1)
        p.scatter(x=[px2x(301)], y=[ry], size=4, fill_color=col, line_color=col)

    # data
    for (main, mid), col in ((SERIES_E[k], BLUE), (SERIES_R[k], RED)):
        xs, ys = series_xy(main, mid)
        p.line(x=xs, y=ys, line_color=col, line_width=1)
        p.scatter(x=xs, y=ys, size=4, fill_color=col, line_color=col)

    # zero line
    p.line(x=[X0, X1], y=[0, 0], line_color="black", line_width=1.5)

    figs.append(p)

# title (top of first panel)
t = figs[0].title
t.text = TITLE
t.text_font = FONT
t.text_font_size = FS
t.text_font_style = "normal"
t.text_color = "black"
t.align = "left"
t.offset = 447 - FRAME_LEFT_PX - 163
t.standoff = 6

# date stamp (below the last panel)
stamp = Title(text=STAMP, align="left", offset=9 - FRAME_LEFT_PX, standoff=0,
              text_font=FONT, text_font_size=FS, text_font_style="normal", text_color="black")
figs[3].add_layout(stamp, "below")

layout = column(*figs, spacing=0)
open("out.html", "w").write(file_html(layout, INLINE))
